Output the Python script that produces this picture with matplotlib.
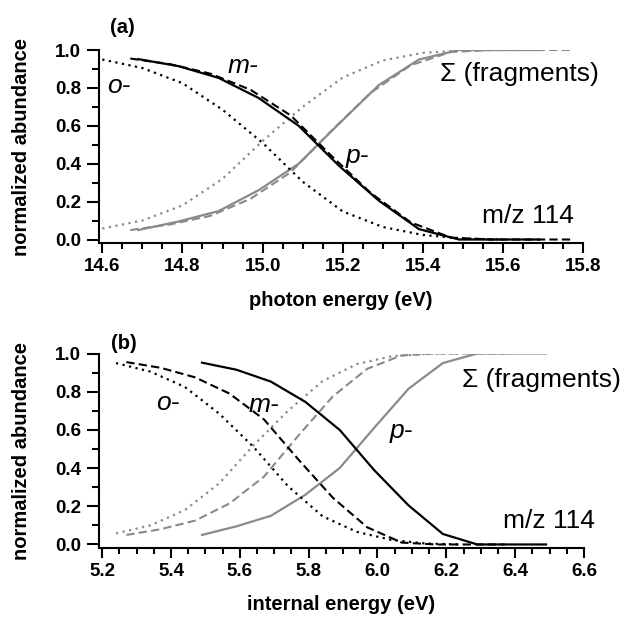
import matplotlib
matplotlib.use('Agg')
import matplotlib.pyplot as plt
from matplotlib.ticker import MultipleLocator, FormatStrFormatter

# normalized abundances (same shapes in both panels, only the energy axis changes)
o_parent = [0.95, 0.905, 0.825, 0.685, 0.51, 0.305, 0.148, 0.066, 0.024, 0.005, 0.0]
o_frag = [0.058, 0.10, 0.18, 0.32, 0.52, 0.70, 0.855, 0.945, 0.985, 0.998, 1.0]
m_parent = [0.955, 0.925, 0.875, 0.79, 0.655, 0.445, 0.245, 0.09, 0.01, 0.0, 0.0, 0.0]
m_frag = [0.05, 0.08, 0.125, 0.215, 0.355, 0.57, 0.775, 0.92, 0.99, 1.0, 1.0, 1.0]
p_parent = [0.952, 0.915, 0.853, 0.747, 0.60, 0.39, 0.205, 0.055, 0.0, 0.0, 0.0]
p_frag = [0.05, 0.095, 0.15, 0.26, 0.40, 0.61, 0.815, 0.95, 1.0, 1.0, 1.0]

# photon energy, panel (a)
o_hv = [14.6, 14.7, 14.8, 14.9, 15.0, 15.1, 15.2, 15.3, 15.4, 15.5, 15.6]
m_hv = [14.67, 14.77, 14.87, 14.97, 15.07, 15.17, 15.27, 15.37, 15.47, 15.57, 15.67, 15.77]
p_hv = [14.69, 14.79, 14.89, 14.99, 15.09, 15.19, 15.29, 15.39, 15.49, 15.59, 15.69]

# internal energy, panel (b)
o_eint = [5.24, 5.34, 5.44, 5.54, 5.64, 5.74, 5.84, 5.94, 6.04, 6.14, 6.24]
m_eint = [5.27, 5.37, 5.47, 5.57, 5.67, 5.77, 5.87, 5.97, 6.07, 6.17, 6.27, 6.37]
p_eint = [5.49, 5.59, 5.69, 5.79, 5.89, 5.99, 6.09, 6.19, 6.29, 6.39, 6.49]

GRAY = '#8a8a8a'
DOT = (0, (1, 2))
DASH = (0, (4, 2))

plt.rcParams['font.family'] = ['Liberation Sans', 'DejaVu Sans']


def draw_panel(ax, o_x, m_x, p_x):
    ax.plot(o_x, o_frag, color=GRAY, ls=DOT, lw=1.6)
    ax.plot(m_x, m_frag, color=GRAY, ls=DASH, lw=1.5)
    ax.plot(p_x, p_frag, color=GRAY, lw=1.6)
    ax.plot(o_x, o_parent, color='k', ls=DOT, lw=1.6)
    ax.plot(m_x, m_parent, color='k', ls=DASH, lw=1.5)
    ax.plot(p_x, p_parent, color='k', lw=1.6)


def style_axes(ax, xlo, xhi, xpad, xlabel):
    ax.set_xlim(xlo - xpad, xhi)
    ax.set_ylim(-0.0185, 1.0)
    ax.spines['top'].set_visible(False)
    ax.spines['right'].set_visible(False)
    for s in ('left', 'bottom'):
        ax.spines[s].set_linewidth(1.5)
    ax.xaxis.set_major_locator(MultipleLocator(0.2))
    ax.xaxis.set_minor_locator(MultipleLocator(0.05))
    ax.yaxis.set_major_locator(MultipleLocator(0.2))
    ax.yaxis.set_minor_locator(MultipleLocator(0.1))
    ax.xaxis.set_major_formatter(FormatStrFormatter('%.1f'))
    ax.yaxis.set_major_formatter(FormatStrFormatter('%.1f'))
    ax.tick_params(axis='x', which='major', direction='out', length=7.2, width=1.5, pad=3.6)
    ax.tick_params(axis='x', which='minor', direction='out', length=4.3, width=1.5)
    ax.tick_params(axis='y', which='major', direction='out', length=8.6, width=1.5, pad=4.3)
    ax.tick_params(axis='y', which='minor', direction='out', length=5.0, width=1.5)
    for lab in ax.get_xticklabels() + ax.get_yticklabels():
        lab.set_fontweight('bold')
        lab.set_fontsize(13.5)
    ax.set_xlabel(xlabel, fontsize=14.5, fontweight='bold')
    ax.set_ylabel('normalized abundance', fontsize=14.5, fontweight='bold')
    ax.yaxis.set_label_coords(-0.14, 0.5)


fig = plt.figure(figsize=(6.28, 6.19), dpi=100)
ax1 = fig.add_axes([0.1576, 0.6074, 0.7712, 0.3118])
ax2 = fig.add_axes([0.1576, 0.1147, 0.7722, 0.3142])

# (a) photon energy
draw_panel(ax1, o_hv, m_hv, p_hv)
style_axes(ax1, 14.6, 15.8, 0.0082, 'photon energy (eV)')
ax1.xaxis.set_label_coords(0.5, -0.25)
ax1.text(14.612, 0.771, 'o-', fontsize=19, style='italic')
ax1.text(14.912, 0.879, 'm-', fontsize=19, style='italic')
ax1.text(15.208, 0.402, 'p-', fontsize=19, style='italic')
ax1.text(15.443, 0.836, '\u03a3 (fragments)', fontsize=19)
ax1.text(15.547, 0.089, 'm/z 114', fontsize=19)
ax1.text(14.62, 1.12, '(a)', fontsize=14.5, fontweight='bold', va='center')

# (b) internal energy
draw_panel(ax2, o_eint, m_eint, p_eint)
style_axes(ax2, 5.2, 6.6, 0.0096, 'internal energy (eV)')
ax2.xaxis.set_label_coords(0.5, -0.24)
ax2.text(5.358, 0.704, 'o-', fontsize=19, style='italic')
ax2.text(5.624, 0.695, 'm-', fontsize=19, style='italic')
ax2.text(6.036, 0.556, 'p-', fontsize=19, style='italic')
ax2.text(6.245, 0.826, '\u03a3 (fragments)', fontsize=19)
ax2.text(6.366, 0.085, 'm/z 114', fontsize=19)
ax2.text(5.225, 1.055, '(b)', fontsize=14.5, fontweight='bold', va='center')

fig.savefig('out.png', dpi=100)
